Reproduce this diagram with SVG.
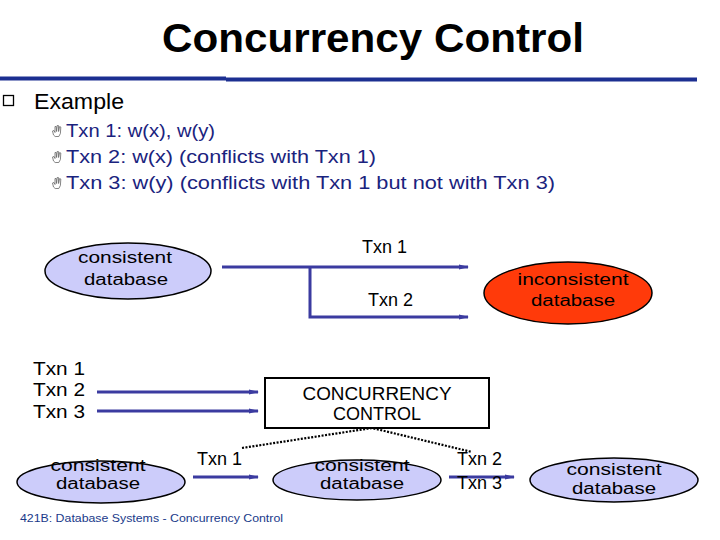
<svg xmlns="http://www.w3.org/2000/svg" width="720" height="540" viewBox="0 0 720 540">
<defs>
<marker id="arr" markerWidth="10" markerHeight="6" refX="9" refY="3" orient="auto" markerUnits="userSpaceOnUse">
<path d="M0,0.5 L10,3 L0,5.5 Z" fill="#3b3ba0"/>
</marker>
<g id="hand">
<path d="M-3.5,4 L-4.5,0 L-3,-0.5 L-2,1.5 L-2,-4.5 L-0.8,-4.5 L-0.4,0.5 L0.2,-5.5 L1.4,-5.5 L1.6,0.5 L2.6,-4.5 L3.8,-4 L3.4,2.5 L1.8,5.5 L-1.8,5.5 Z" fill="none" stroke="#666" stroke-width="0.8"/>
</g>
</defs>
<style>
.t{font-family:"Liberation Sans",Arial,sans-serif;}
.title{font-size:40px;font-weight:bold;fill:#000;}
.bul{font-size:18px;fill:#1a237e;}
.lbl{font-size:18px;fill:#000;}
.el{fill:#ccccfa;stroke:#000;stroke-width:1.5;}
.eltxt{font-size:16px;fill:#000;text-anchor:middle;}
.conn{stroke:#3b3ba0;stroke-width:3;fill:none;}
.dot{stroke:#000;stroke-width:2.2;stroke-dasharray:2 1.5;fill:none;}
</style>
<rect width="720" height="540" fill="#fff"/>
<text class="t title" x="373" y="52" text-anchor="middle" textLength="422" lengthAdjust="spacingAndGlyphs">Concurrency Control</text>
<path d="M0,78.5 H226 M226,79.5 H697" stroke="#1c2f91" stroke-width="4"/>
<rect x="3.5" y="95.5" width="10" height="10" fill="none" stroke="#000" stroke-width="1.3"/>
<text class="t" x="34" y="109" font-size="22" fill="#000" textLength="90" lengthAdjust="spacingAndGlyphs">Example</text>
<use href="#hand" x="57" y="131"/>
<use href="#hand" x="57" y="157"/>
<use href="#hand" x="57" y="183"/>
<text class="t bul" x="66" y="137" textLength="149" lengthAdjust="spacingAndGlyphs">Txn 1: w(x), w(y)</text>
<text class="t bul" x="66" y="163" textLength="310" lengthAdjust="spacingAndGlyphs">Txn 2: w(x) (conflicts with Txn 1)</text>
<text class="t bul" x="66" y="189" textLength="489" lengthAdjust="spacingAndGlyphs">Txn 3: w(y) (conflicts with Txn 1 but not with Txn 3)</text>

<g id="connectors">
<path class="conn" d="M222,267 H468" marker-end="url(#arr)"/>
<path class="conn" d="M310,267 V317 H468" marker-end="url(#arr)"/>
<path class="conn" d="M97,392 H258" marker-end="url(#arr)"/>
<path class="conn" d="M97,411 H258" marker-end="url(#arr)"/>
<path class="conn" d="M193,477 H258" marker-end="url(#arr)"/>
<path class="conn" d="M449,477 H514" marker-end="url(#arr)"/>
<path class="dot" d="M242,448 L372,428 L472,452"/>
</g>

<g id="db1">
<ellipse class="el" cx="128" cy="271" rx="83" ry="28"/>
<text class="t eltxt" x="125" y="263" textLength="94" lengthAdjust="spacingAndGlyphs">consistent</text>
<text class="t eltxt" x="126" y="285" textLength="84" lengthAdjust="spacingAndGlyphs">database</text>
</g>
<g id="lbl-txn1">
<text class="t lbl" x="362" y="253">Txn 1</text>
</g>
<g id="lbl-txn2">
<text class="t lbl" x="368" y="306">Txn 2</text>
</g>
<g id="db-inconsistent">
<ellipse cx="568" cy="293" rx="84" ry="31" fill="#ff3a0a" stroke="#000" stroke-width="1.5"/>
<text class="t eltxt" x="573" y="285" fill="#3a1a10" textLength="111" lengthAdjust="spacingAndGlyphs">inconsistent</text>
<text class="t eltxt" x="573" y="306" fill="#3a1a10" textLength="84" lengthAdjust="spacingAndGlyphs">database</text>
</g>
<g id="txns">
<text class="t lbl" x="33" y="375" font-size="19" textLength="52" lengthAdjust="spacingAndGlyphs">Txn 1</text>
<text class="t lbl" x="33" y="396" font-size="19" textLength="52" lengthAdjust="spacingAndGlyphs">Txn 2</text>
<text class="t lbl" x="33" y="418" font-size="19" textLength="52" lengthAdjust="spacingAndGlyphs">Txn 3</text>
</g>
<g id="cc">
<rect x="265" y="378" width="224" height="50" fill="#fff" stroke="#000" stroke-width="2"/>
<text class="t" x="377" y="400" font-size="18" text-anchor="middle" textLength="149" lengthAdjust="spacingAndGlyphs">CONCURRENCY</text>
<text class="t" x="377" y="420" font-size="18" text-anchor="middle">CONTROL</text>
</g>
<g id="db2">
<ellipse class="el" cx="101" cy="482" rx="84" ry="21"/>
<text class="t eltxt" x="98" y="471" textLength="95" lengthAdjust="spacingAndGlyphs">consistent</text>
<text class="t eltxt" x="98" y="489" textLength="84" lengthAdjust="spacingAndGlyphs">database</text>
</g>
<g id="lbl-b1">
<text class="t lbl" x="197" y="465">Txn 1</text>
</g>
<g id="db3">
<ellipse class="el" cx="357" cy="480" rx="84" ry="20"/>
<text class="t eltxt" x="362" y="471" textLength="95" lengthAdjust="spacingAndGlyphs">consistent</text>
<text class="t eltxt" x="362" y="489" textLength="84" lengthAdjust="spacingAndGlyphs">database</text>
</g>
<g id="lbl-b2">
<text class="t lbl" x="457" y="465">Txn 2</text>
<text class="t lbl" x="457" y="489">Txn 3</text>
</g>
<g id="db4">
<ellipse class="el" cx="614" cy="480" rx="84" ry="22"/>
<text class="t eltxt" x="614" y="475" textLength="95" lengthAdjust="spacingAndGlyphs">consistent</text>
<text class="t eltxt" x="614" y="494" textLength="84" lengthAdjust="spacingAndGlyphs">database</text>
</g>
<text class="t" x="20" y="522" font-size="11" fill="#1a3a8a" textLength="263" lengthAdjust="spacingAndGlyphs">421B: Database Systems - Concurrency Control</text>
</svg>
